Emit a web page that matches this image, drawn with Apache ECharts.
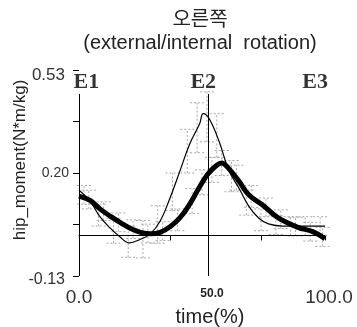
<!DOCTYPE html>
<html>
<head>
<meta charset="utf-8">
<script src="https://cdn.jsdelivr.net/npm/echarts@6/dist/echarts.min.js"></script>
<style>
  html, body { margin: 0; padding: 0; background: #fff; }
  #chart { width: 357px; height: 327px; }
</style>
</head>
<body>
<div id="chart"></div>
<script>
// mean curves, x in % of cycle
const thickX = [0, 4.5, 8.5, 13, 17, 21, 25, 29, 33, 37, 41, 45, 49, 52.4, 56, 58, 60, 65, 69, 75, 81, 89, 95, 100];
const thickY = [0.126, 0.112, 0.085, 0.06, 0.04, 0.022, 0.01, 0.005, 0.01, 0.028, 0.056, 0.1, 0.155, 0.197, 0.225, 0.232, 0.222, 0.174, 0.13, 0.095, 0.056, 0.026, 0.012, -0.01];
const thinX = [0, 4.5, 8.5, 12.6, 16.7, 20.5, 24.8, 29, 33, 37, 41, 45, 49, 50.5, 53, 57, 61, 65, 69, 73, 77, 83, 90, 100];
const thinY = [0.145, 0.11, 0.06, 0.024, -0.005, -0.024, -0.013, 0.005, 0.046, 0.12, 0.206, 0.293, 0.357, 0.39, 0.373, 0.3, 0.206, 0.152, 0.094, 0.056, 0.037, 0.03, 0.03, 0.03];

// grey dashed spread bars
const thinBarX = [2, 8, 14, 20, 26, 32, 38, 44, 48, 52, 56, 62, 68, 74, 80, 86, 92, 98];
const thinBarMid = [0.13, 0.065, 0.015, -0.02, -0.012, 0.035, 0.14, 0.27, 0.345, 0.38, 0.32, 0.19, 0.105, 0.05, 0.033, 0.03, 0.03, 0.03];
const thinBarSd = [0.03, 0.035, 0.04, 0.05, 0.06, 0.06, 0.06, 0.07, 0.08, 0.08, 0.07, 0.05, 0.04, 0.035, 0.03, 0.03, 0.03, 0.03];
const thickBarX = [4, 10, 16, 22, 28, 34, 40, 46, 50, 54, 58, 64, 70, 76, 82, 88, 94, 99];
const thickBarMid = [0.115, 0.078, 0.042, 0.02, 0.006, 0.014, 0.05, 0.11, 0.17, 0.21, 0.232, 0.185, 0.125, 0.09, 0.052, 0.028, 0.012, -0.005];
const thickBarSd = [0.03, 0.03, 0.03, 0.03, 0.03, 0.03, 0.035, 0.04, 0.04, 0.04, 0.04, 0.04, 0.035, 0.03, 0.03, 0.03, 0.03, 0.03];

// events
const eventNames = ['E1', 'E2', 'E3'];
const eventLabelX = [3, 50.5, 96];
const eventLineX = [0, 52.4];
const eventTop = 0.453;

const yLabelValues = [-0.13, 0.2, 0.53];
const yLabelTexts = ['-0.13', '0.20', '0.53'];
const xLabelValues = [0, 50, 100];
const xLabelTexts = ['0.0', '50.0', '100.0'];

const font = "'Liberation Sans', Arial, 'Noto Sans CJK KR', sans-serif";
const chart = echarts.init(document.getElementById('chart'));

function zip(xs, ys) {
  return xs.map((x, i) => [x, ys[i]]);
}

function barData(xs, mids, sds) {
  return xs.map((x, i) => [x, mids[i] - sds[i], mids[i] + sds[i]]);
}

function renderBar(params, api) {
  const lo = api.coord([api.value(0), api.value(1)]);
  const hi = api.coord([api.value(0), api.value(2)]);
  const style = { stroke: '#a8a8a8', lineWidth: 1, lineDash: [2, 2] };
  const w = 7;
  return {
    type: 'group',
    children: [
      { type: 'line', shape: { x1: lo[0], y1: lo[1], x2: hi[0], y2: hi[1] }, style },
      { type: 'line', shape: { x1: lo[0] - w, y1: lo[1], x2: lo[0] + w, y2: lo[1] }, style },
      { type: 'line', shape: { x1: hi[0] - w, y1: hi[1], x2: hi[0] + w, y2: hi[1] }, style }
    ]
  };
}

chart.setOption({
  animation: false,
  title: {
    text: '오른쪽\n(external/internal  rotation)',
    left: 195,
    top: 4,
    textAlign: 'center',
    textStyle: { fontFamily: font, fontSize: 20, fontWeight: 'normal', color: '#222', lineHeight: 23 }
  },
  grid: { left: 79, right: 32, top: 70, bottom: 51, outerBoundsMode: 'none', containLabel: false },
  xAxis: [
    {
      type: 'value', min: 0, max: 100, interval: 37,
      axisLine: { show: true, lineStyle: { color: '#000', width: 1 } },
      axisTick: { show: true, length: 5, lineStyle: { color: '#000' } },
      axisLabel: { show: false },
      splitLine: { show: false },
      name: 'time(%)', nameLocation: 'middle', nameGap: 31,
      nameTextStyle: { fontFamily: font, fontSize: 20, color: '#222', padding: [0, 0, 0, 16] }
    },
    {
      type: 'value', min: 0, max: 100, interval: 50, position: 'bottom',
      axisLine: { show: false }, axisTick: { show: false }, splitLine: { show: false },
      axisLabel: {
        margin: 12,
        formatter: (v) => {
          const i = xLabelValues.indexOf(Math.round(v));
          if (i < 0) return '';
          if (i === 1) return '{s|' + xLabelTexts[i] + '}';
          return i === 2 ? '{e|' + xLabelTexts[i] + '}' : '{b|' + xLabelTexts[i] + '}';
        },
        rich: {
          b: { fontFamily: font, fontSize: 19, color: '#333' },
          e: { fontFamily: font, fontSize: 19, color: '#333', padding: [0, 0, 0, 8] },
          s: { fontFamily: font, fontSize: 12, color: '#222', fontWeight: 'bold', padding: [0, 0, 8, 20] }
        }
      }
    }
  ],
  yAxis: {
    type: 'value', min: -0.13, max: 0.53, interval: 0.165,
    axisLine: { show: false },
    axisTick: { show: true, length: 6, lineStyle: { color: '#000' } },
    splitLine: { show: false },
    axisLabel: {
      margin: 10,
      formatter: (v) => {
        const r = Math.round(v * 1000) / 1000;
        const i = yLabelValues.indexOf(r);
        if (i < 0) return '';
        return '{l' + i + '|' + yLabelTexts[i] + '}';
      },
      rich: {
        l0: { fontFamily: font, fontSize: 16, color: '#333', padding: [8, 4, 0, 0] },
        l1: { fontFamily: font, fontSize: 14, color: '#333' },
        l2: { fontFamily: font, fontSize: 17, color: '#333', padding: [10, 4, 0, 0] }
      }
    }
  },
  graphic: [{
    type: 'text', x: 20, y: 160, rotation: Math.PI / 2,
    style: { text: 'hip_moment(N*m/kg)', fontFamily: font, fontSize: 17, fill: '#222', textAlign: 'center', textVerticalAlign: 'middle' }
  }],
  series: [
    {
      type: 'custom', renderItem: renderBar, data: barData(thinBarX, thinBarMid, thinBarSd),
      encode: { x: 0, y: [1, 2] }, z: 1, silent: true
    },
    {
      type: 'custom', renderItem: renderBar, data: barData(thickBarX, thickBarMid, thickBarSd),
      encode: { x: 0, y: [1, 2] }, z: 1, silent: true
    },
    {
      type: 'line', data: zip(thinX, thinY), smooth: 0.4, showSymbol: false, z: 3,
      lineStyle: { color: '#000', width: 1.2 },
      markLine: {
        silent: true, symbol: 'none', label: { show: false },
        lineStyle: { color: '#000', width: 1, type: 'solid' },
        data: [
          { yAxis: 0 },
          ...eventLineX.map((x) => [{ coord: [x, -0.13] }, { coord: [x, eventTop] }])
        ]
      }
    },
    {
      type: 'line', data: zip(thickX, thickY), smooth: 0.4, showSymbol: false, z: 4,
      lineStyle: { color: '#000', width: 5 }
    },
    {
      type: 'scatter', symbolSize: 0, z: 5, silent: true,
      data: eventNames.map((n, i) => ({ name: n, value: [eventLabelX[i], 0.49] })),
      label: {
        show: true, position: 'inside', formatter: '{b}',
        fontFamily: "'Liberation Serif', 'DejaVu Serif', serif", fontSize: 22, fontWeight: 'bold', color: '#000'
      }
    }
  ]
});
</script>
</body>
</html>
